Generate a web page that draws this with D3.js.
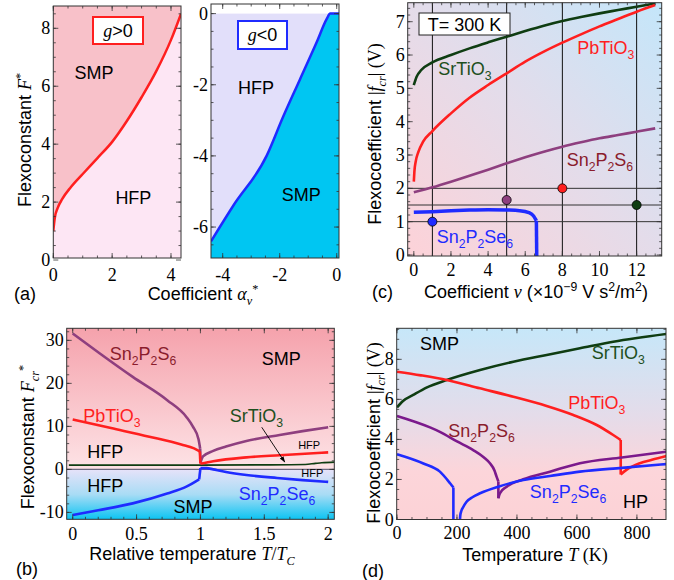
<!DOCTYPE html>
<html lang="en">
<head>
<meta charset="UTF-8">
<title>Flexoconstant phase diagrams</title>
<script src="https://d3js.org/d3.v7.min.js"></script>
<style>
  body { margin: 0; background: #fff; }
  text { font-family: "Liberation Sans", Arial, sans-serif; }
  .num { font-family: "Liberation Serif", "Times New Roman", serif; font-size: 18px; }
</style>
</head>
<body>
<svg id="fig" width="674" height="580"></svg>
<script>
// ---------- data ----------
// (a) boundary SMP/HFP, g>0
var aPosAlpha = [0, 0.05, 0.15, 0.3, 0.6, 1.0, 1.5, 2.0, 2.5, 3.0, 3.5, 4.0, 4.34];
var aPosF     = [1.0, 1.45, 1.8, 2.1, 2.52, 2.97, 3.52, 4.08, 4.8, 5.62, 6.52, 7.6, 8.5];
// (a) boundary, g<0
var aNegAlpha = [-4.41, -3.63, -2.46, -1.88, -1.29, -0.70, -0.35, -0.23, 0.08];
var aNegF     = [-6.4, -5.4, -4.0, -2.9, -1.85, -0.8, -0.15, 0, 0];

// (b) critical flexoconstant vs T/Tc
var bS6T_lo = [0, 0.21, 0.47, 0.74, 0.89, 0.94, 0.985, 0.998];
var bS6F_lo = [31.6, 27.0, 21.5, 16.1, 12.2, 10.0, 7.0, 4.8];
var bS6T_hi = [1.0, 1.02, 1.1, 1.2, 1.36, 1.62, 1.8, 2.0];
var bS6F_hi = [1.5, 3.0, 4.3, 5.3, 6.6, 8.0, 8.9, 9.8];
var bPbT_lo = [0, 0.3, 0.6, 0.85, 0.95, 0.995];
var bPbF_lo = [11.6, 9.6, 7.6, 5.8, 4.9, 4.2];
var bPbT_hi = [1.0, 1.1, 1.36, 1.62, 2.0];
var bPbF_hi = [1.3, 1.9, 2.8, 3.3, 3.95];
var bSrT = [-0.03, 1.0, 1.5, 1.82, 1.9, 1.95, 2.05];
var bSrF = [1.0, 1.0, 1.05, 1.15, 1.4, 1.55, 1.7];
var bSe6T_lo = [0, 0.2, 0.47, 0.74, 0.89, 0.99];
var bSe6F_lo = [-10.6, -9.5, -7.9, -5.6, -4.0, -2.3];
var bSe6T_hi = [1.0, 1.05, 1.1, 1.2, 1.36, 1.6, 1.8, 2.0];
var bSe6F_hi = [0.3, 0.3, 0.0, -0.6, -1.3, -2.0, -2.5, -2.9];

// (c) |f_cr| vs coefficient nu at T = 300 K
var cSrV = [0, 0.15, 0.4, 1, 2, 3, 4, 5, 6, 7, 8, 9, 10, 11, 12, 13];
var cSrF = [5.1, 5.35, 5.55, 5.78, 6.0, 6.2, 6.38, 6.55, 6.72, 6.88, 7.02, 7.14, 7.25, 7.35, 7.45, 7.55];
var cPbV = [0, 0.03, 0.1, 0.25, 0.5, 1, 2, 3, 4, 5, 6, 7, 8, 9, 10, 11, 12, 13];
var cPbF = [2.2, 2.5, 2.8, 3.1, 3.4, 3.72, 4.25, 4.72, 5.1, 5.45, 5.8, 6.1, 6.37, 6.62, 6.86, 7.08, 7.3, 7.5];
var cS6V = [0, 1, 2, 3, 4, 5, 6, 7, 8, 9, 10, 11, 12, 13];
var cS6F = [1.88, 2.03, 2.2, 2.38, 2.56, 2.75, 2.93, 3.1, 3.25, 3.38, 3.5, 3.6, 3.7, 3.8];
var cSe6V_lo = [0, 1, 2, 3, 4, 5, 5.7, 6.2, 6.45, 6.6];
var cSe6F_lo = [1.28, 1.3, 1.33, 1.35, 1.36, 1.35, 1.33, 1.27, 1.17, 1.03];
var cSe6V_hi = [6.62];
var cSe6F_hi = [-0.05];
var cGridV = [1, 5, 8, 12];
var cGridF = [1, 1.5, 2];
var cDotV = [1, 5, 8, 12];
var cDotF = [1, 1.65, 2, 1.5];
var cDotMat = ["Sn2P2Se6", "Sn2P2S6", "PbTiO3", "SrTiO3"];

// (d) |f_cr| vs temperature
var dSrT = [0, 20, 54, 100, 166, 277, 388, 499, 610, 721, 899];
var dSrF = [5.6, 5.92, 6.22, 6.6, 6.97, 7.47, 7.88, 8.22, 8.55, 8.88, 9.27];
var dPbT_lo = [0, 80, 166, 277, 388, 499, 588, 666, 721, 746];
var dPbF_lo = [7.38, 7.2, 6.97, 6.55, 6.13, 5.67, 5.22, 4.72, 4.22, 3.97];
var dPbT_hi = [746, 765, 810, 850, 899];
var dPbF_hi = [2.25, 2.48, 2.81, 2.98, 3.17];
var dS6T_lo = [0, 110, 143, 200, 254, 290, 310, 325, 332, 338];
var dS6F_lo = [5.17, 4.6, 4.38, 3.9, 3.47, 3.1, 2.81, 2.45, 2.14, 1.9];
var dS6T_hi = [338, 343, 366, 421, 510, 610, 750, 899];
var dS6F_hi = [1.06, 1.31, 1.64, 2.01, 2.39, 2.81, 3.1, 3.39];
var dSe6T_lo = [0, 88, 143, 177, 188];
var dSe6F_lo = [3.26, 2.8, 2.39, 1.81, 1.6];
var dSe6T_mid = [188];
var dSe6F_mid = [-0.05];
var dSe6T_hi = [210, 211, 214, 220, 232, 250, 277, 338, 421, 510, 610, 750, 899];
var dSe6F_hi = [0, 0.2, 0.4, 0.6, 0.89, 1.1, 1.31, 1.64, 1.97, 2.17, 2.39, 2.58, 2.77];

// ---------- styles ----------
var col = {
  PbTiO3: "#ff1f1f", SrTiO3: "#0f3d12", Sn2P2S6: "#8e3f7f", Sn2P2Se6: "#1f2bff",
  S6d: "#7b1a8c", S6text: "#8a1c2c", Srtext: "#1d4f1d"
};
var serif = '"Liberation Serif", "Times New Roman", serif';

var svg = d3.select("#fig");
var defs = svg.append("defs");

function linGrad(id, x1, y1, x2, y2, stops) {
  var gr = defs.append("linearGradient").attr("id", id)
    .attr("x1", x1).attr("y1", y1).attr("x2", x2).attr("y2", y2);
  stops.forEach(function(s) { gr.append("stop").attr("offset", s[0]).attr("stop-color", s[1]); });
}
linGrad("gradB1", 0, 0, 0, 1, [[0, "#f5a2ac"], [1, "#fde3e6"]]);
linGrad("gradB2", 0, 0, 0, 1, [[0, "#e6e2f9"], [0.5, "#a9dcf5"], [1, "#0cc4f2"]]);
linGrad("gradC", 0, 1, 1, 0, [[0, "#fdd2d8"], [0.5, "#e4dcea"], [1, "#c4e6fa"]]);
linGrad("gradD", 0, 0, 0, 1, [[0, "#c6e7f9"], [0.45, "#e4dcea"], [0.75, "#fcd5da"], [1, "#fcd2d6"]]);

defs.append("marker").attr("id", "arrow").attr("viewBox", "0 0 10 10")
  .attr("refX", 9).attr("refY", 5).attr("markerWidth", 7).attr("markerHeight", 7)
  .attr("orient", "auto")
  .append("path").attr("d", "M0,1.5 L10,5 L0,8.5 z").attr("fill", "#000");

var clipN = 0;
function clipFor(g, x, y) {
  var id = "clip" + (clipN++);
  defs.append("clipPath").attr("id", id).append("rect")
    .attr("x", x.range()[0]).attr("y", y.range()[1])
    .attr("width", x.range()[1] - x.range()[0]).attr("height", y.range()[0] - y.range()[1]);
  return g.append("g").attr("clip-path", "url(#" + id + ")");
}

function zip(xs, ys) { return xs.map(function(v, i) { return [v, ys[i]]; }); }

// branches are [xs, ys] pairs; consecutive branches joined by a straight jump
function drawSeries(g, x, y, branches, color, width, connect) {
  var smooth = d3.line().x(function(d) { return x(d[0]); }).y(function(d) { return y(d[1]); })
    .curve(d3.curveMonotoneX);
  var straight = d3.line().x(function(d) { return x(d[0]); }).y(function(d) { return y(d[1]); });
  var pts = branches.map(function(b) { return zip(b[0], b[1]); });
  pts.forEach(function(p, i) {
    if (p.length > 1) {
      g.append("path").datum(p).attr("d", smooth).attr("fill", "none")
        .attr("stroke", color).attr("stroke-width", width).attr("stroke-linejoin", "round");
    }
    if (connect && i > 0) {
      var prev = pts[i - 1];
      g.append("path").datum([prev[prev.length - 1], p[0]]).attr("d", straight).attr("fill", "none")
        .attr("stroke", color).attr("stroke-width", width).attr("stroke-linecap", "butt");
    }
  });
}

function steps(dom, step) {
  var lo = Math.min(dom[0], dom[1]), hi = Math.max(dom[0], dom[1]);
  return d3.range(Math.ceil(lo / step - 1e-9) * step, hi + 1e-9, step)
    .map(function(v) { return Math.round(v * 1e6) / 1e6; });
}

// Mathematica-like frame: ticks inside on all four sides
function frame(g, x, y, o) {
  var X0 = x.range()[0], X1 = x.range()[1], Y0 = y.range()[0], Y1 = y.range()[1];
  var tg = g.append("g").attr("stroke", "#333").attr("stroke-width", 0.8);
  function xt(vals, len) {
    vals.forEach(function(v) {
      var px = x(v);
      tg.append("line").attr("x1", px).attr("x2", px).attr("y1", Y0).attr("y2", Y0 - len);
      tg.append("line").attr("x1", px).attr("x2", px).attr("y1", Y1).attr("y2", Y1 + len);
    });
  }
  function yt(vals, len) {
    vals.forEach(function(v) {
      var py = y(v);
      tg.append("line").attr("y1", py).attr("y2", py).attr("x1", X0).attr("x2", X0 + len);
      tg.append("line").attr("y1", py).attr("y2", py).attr("x1", X1).attr("x2", X1 - len);
    });
  }
  xt(steps(x.domain(), o.xMinor), 2.5);
  yt(steps(y.domain(), o.yMinor), 2.5);
  xt(o.xTicks, 5);
  yt(o.yTicks, 5);
  g.append("rect").attr("x", X0).attr("y", Y1).attr("width", X1 - X0).attr("height", Y0 - Y1)
    .attr("fill", "none").attr("stroke", "#333").attr("stroke-width", 1);
  o.xTicks.forEach(function(v) {
    g.append("text").attr("class", "num").attr("x", x(v)).attr("y", o.xBase)
      .attr("text-anchor", "middle").text(String(v));
  });
  o.yTicks.forEach(function(v) {
    g.append("text").attr("class", "num").attr("x", X0 - 3).attr("y", y(v) + 6)
      .attr("text-anchor", "end").text(String(v));
  });
}

// text made of runs: [text, "sub"|"sup"|"", "i" (serif italic) | "s" (serif) | ""]
function rich(sel, x, y, parts, size, anchor, color) {
  var t = sel.append("text").attr("x", x).attr("y", y).attr("font-size", size)
    .attr("text-anchor", anchor || "start").attr("fill", color || "#000");
  var shift = 0;
  parts.forEach(function(p) {
    var s = t.append("tspan").text(p[0]);
    var want = p[1] === "sub" ? size * 0.28 : p[1] === "sup" ? -size * 0.38 : 0;
    s.attr("dy", want - shift);
    shift = want;
    if (p[1]) s.attr("font-size", size * 0.68);
    if (p[2] === "i") s.attr("font-family", serif).attr("font-style", "italic");
    if (p[2] === "s") s.attr("font-family", serif);
  });
  return t;
}
function chem(name) {
  var m = {
    Sn2P2S6: [["Sn"], ["2", "sub"], ["P"], ["2", "sub"], ["S"], ["6", "sub"]],
    Sn2P2Se6: [["Sn"], ["2", "sub"], ["P"], ["2", "sub"], ["Se"], ["6", "sub"]],
    PbTiO3: [["PbTiO"], ["3", "sub"]],
    SrTiO3: [["SrTiO"], ["3", "sub"]]
  };
  return m[name];
}
function label(g, x, y, px, py, text, size, color) {
  return g.append("text").attr("x", x(px)).attr("y", y(py)).attr("font-size", size || 18)
    .attr("fill", color || "#000").text(text);
}

// ================= panel (a), g>0 =================
var xaL = d3.scaleLinear().domain([0, 4.34]).range([53.3, 181]);
var yaL = d3.scaleLinear().domain([0.07, 8.77]).range([258, 6]);
var gaL = svg.append("g");
gaL.append("rect").attr("x", 53.3).attr("y", 6).attr("width", 127.7).attr("height", 252).attr("fill", "#fde6f4");
var caL = clipFor(gaL, xaL, yaL);
caL.append("path").datum(zip(aPosAlpha, aPosF))
  .attr("d", d3.area().x(function(d) { return xaL(d[0]); }).y0(yaL.range()[1])
    .y1(function(d) { return yaL(d[1]); }).curve(d3.curveMonotoneX))
  .attr("fill", "#f8c1c9");
drawSeries(caL, xaL, yaL, [[aPosAlpha, aPosF]], "#ff1f1f", 2.5);
frame(gaL, xaL, yaL, { xTicks: [0, 2, 4], yTicks: [0, 2, 4, 6, 8], xMinor: 0.5, yMinor: 0.5, xBase: 281 });
label(gaL, xaL, yaL, 0.72, 6.25, "SMP");
label(gaL, xaL, yaL, 2.11, 1.95, "HFP");
gaL.append("rect").attr("x", 93).attr("y", 17).attr("width", 50).attr("height", 27)
  .attr("fill", "#fff").attr("stroke", "#ff1f1f").attr("stroke-width", 2);
rich(gaL, 118, 37, [["g", "", "i"], [">0"]], 18, "middle");

// ================= panel (a), g<0 =================
var xaR = d3.scaleLinear().domain([-4.41, 0.08]).range([211, 339]);
var yaR = d3.scaleLinear().domain([-6.87, 0.27]).range([258, 4]);
var gaR = svg.append("g");
gaR.append("rect").attr("x", 211).attr("y", yaR(0)).attr("width", 128).attr("height", 258 - yaR(0)).attr("fill", "#e2dffa");
var caR = clipFor(gaR, xaR, yaR);
caR.append("path").datum(zip(aNegAlpha, aNegF))
  .attr("d", d3.area().x(function(d) { return xaR(d[0]); }).y0(yaR.range()[0])
    .y1(function(d) { return yaR(d[1]); }).curve(d3.curveMonotoneX))
  .attr("fill", "#00c6f2");
drawSeries(caR, xaR, yaR, [[aNegAlpha, aNegF]], "#1f2bff", 2.5);
frame(gaR, xaR, yaR, { xTicks: [-4, -2, 0], yTicks: [0, -2, -4, -6], xMinor: 0.5, yMinor: 0.5, xBase: 281 });
label(gaR, xaR, yaR, -3.46, -2.25, "HFP");
label(gaR, xaR, yaR, -1.93, -5.27, "SMP");
gaR.append("rect").attr("x", 238).attr("y", 21).attr("width", 49).attr("height", 28)
  .attr("fill", "#fff").attr("stroke", "#1f2bff").attr("stroke-width", 2);
rich(gaR, 262.5, 41, [["g", "", "i"], ["<0"]], 18, "middle");

// axis titles (a)
rich(svg.append("g").attr("transform", "translate(31,140) rotate(-90)"), 0, 0,
  [["Flexoconstant  "], ["F", "", "i"], ["*", "sup", "s"]], 18, "middle");
rich(svg, 203, 300, [["Coefficient  "], ["α", "", "i"], ["ν", "sub", "i"], ["*", "sup", "s"]], 18, "middle");
svg.append("text").attr("x", 14).attr("y", 300).attr("font-size", 18).text("(a)");

// ================= panel (c) =================
var xc = d3.scaleLinear().domain([-0.33, 13.35]).range([407.7, 661.7]);
var yc = d3.scaleLinear().domain([-0.03, 7.57]).range([256, 2.7]);
var gc = svg.append("g");
gc.append("rect").attr("x", 407.7).attr("y", 2.7).attr("width", 254).attr("height", 253.3).attr("fill", "url(#gradC)");
var cc = clipFor(gc, xc, yc);
cGridV.forEach(function(v) {
  cc.append("line").attr("x1", xc(v)).attr("x2", xc(v)).attr("y1", yc.range()[0]).attr("y2", yc.range()[1])
    .attr("stroke", "#111").attr("stroke-width", 1);
});
cGridF.forEach(function(v) {
  cc.append("line").attr("y1", yc(v)).attr("y2", yc(v)).attr("x1", xc.range()[0]).attr("x2", xc.range()[1])
    .attr("stroke", "#333").attr("stroke-width", 1);
});
drawSeries(cc, xc, yc, [[cSrV, cSrF]], col.SrTiO3, 2.6);
drawSeries(cc, xc, yc, [[cPbV, cPbF]], col.PbTiO3, 2.6);
drawSeries(cc, xc, yc, [[cS6V, cS6F]], col.Sn2P2S6, 2.6);
drawSeries(cc, xc, yc, [[cSe6V_lo, cSe6F_lo], [cSe6V_hi, cSe6F_hi]], col.Sn2P2Se6, 3.5, true);
cDotV.forEach(function(v, i) {
  cc.append("circle").attr("cx", xc(v)).attr("cy", yc(cDotF[i])).attr("r", 4.5)
    .attr("fill", col[cDotMat[i]]).attr("stroke", "#000").attr("stroke-width", 0.8);
});
frame(gc, xc, yc, { xTicks: [0, 2, 4, 6, 8, 10, 12], yTicks: [0, 1, 2, 3, 4, 5, 6, 7], xMinor: 0.5, yMinor: 0.2, xBase: 276 });
rich(gc, xc(1.32), yc(5.4), chem("SrTiO3"), 18, "start", col.Srtext);
rich(gc, xc(8.8), yc(6.02), chem("PbTiO3"), 18, "start", col.PbTiO3);
rich(gc, xc(8.23), yc(2.68), chem("Sn2P2S6"), 18, "start", col.S6text);
rich(gc, xc(1.23), yc(0.35), chem("Sn2P2Se6"), 18, "start", col.Sn2P2Se6);
gc.append("rect").attr("x", 419).attr("y", 13).attr("width", 91).attr("height", 22)
  .attr("fill", "#fff").attr("stroke", "#222").attr("stroke-width", 1);
gc.append("text").attr("x", 464.5).attr("y", 30.5).attr("text-anchor", "middle").attr("font-size", 18).text("T= 300 K");
rich(svg.append("g").attr("transform", "translate(381,134) rotate(-90)"), 0, 0,
  [["Flexocoefficient "], ["|", "", "s"], ["f", "", "i"], ["cr", "sub", "i"], ["|", "", "s"], [" (V)", "", "s"]], 18, "middle");
rich(svg, 536, 298, [["Coefficient  "], ["ν", "", "i"], [" (×10"], ["−9", "sup"], [" V s"], ["2", "sup"], ["/m"], ["2", "sup"], [")"]], 18, "middle");
svg.append("text").attr("x", 372).attr("y", 298).attr("font-size", 18).text("(c)");

// ================= panel (b) =================
var xb = d3.scaleLinear().domain([-0.047, 2.048]).range([66.7, 334.3]);
var yb = d3.scaleLinear().domain([-11.6, 32.8]).range([519.3, 328.3]);
var gb = svg.append("g");
gb.append("rect").attr("x", 66.7).attr("y", 328.3).attr("width", 267.6).attr("height", yb(0) - 328.3).attr("fill", "url(#gradB1)");
gb.append("rect").attr("x", 66.7).attr("y", yb(0)).attr("width", 267.6).attr("height", 519.3 - yb(0)).attr("fill", "url(#gradB2)");
var cb = clipFor(gb, xb, yb);
cb.append("line").attr("x1", 66.7).attr("x2", 334.3).attr("y1", yb(0)).attr("y2", yb(0))
  .attr("stroke", "#6c6a80").attr("stroke-width", 1.3);
drawSeries(cb, xb, yb, [[bSrT, bSrF]], col.SrTiO3, 1.6);
drawSeries(cb, xb, yb, [[bS6T_lo, bS6F_lo], [bS6T_hi, bS6F_hi]], col.Sn2P2S6, 2.6, true);
drawSeries(cb, xb, yb, [[bPbT_lo, bPbF_lo], [bPbT_hi, bPbF_hi]], col.PbTiO3, 2.6, true);
drawSeries(cb, xb, yb, [[bSe6T_lo, bSe6F_lo], [bSe6T_hi, bSe6F_hi]], col.Sn2P2Se6, 2.6, true);
gb.append("line").attr("x1", xb(1.48)).attr("y1", yb(9.8)).attr("x2", xb(1.66)).attr("y2", yb(1.7))
  .attr("stroke", "#000").attr("stroke-width", 0.9).attr("marker-end", "url(#arrow)");
frame(gb, xb, yb, { xTicks: [0, 0.5, 1, 1.5, 2], yTicks: [-10, 0, 10, 20, 30], xMinor: 0.1, yMinor: 2, xBase: 540 });
rich(gb, xb(0.29), yb(25.4), chem("Sn2P2S6"), 18, "start", col.S6text);
label(gb, xb, yb, 1.48, 24.3, "SMP");
rich(gb, xb(0.083), yb(11.1), chem("PbTiO3"), 18, "start", col.PbTiO3);
rich(gb, xb(1.23), yb(11.1), chem("SrTiO3"), 18, "start", col.Srtext);
label(gb, xb, yb, 0.114, 2.56, "HFP");
label(gb, xb, yb, 1.765, 4.65, "HFP", 11);
label(gb, xb, yb, 1.79, -1.72, "HFP", 11);
label(gb, xb, yb, 0.114, -5.2, "HFP");
label(gb, xb, yb, 0.79, -10.1, "SMP");
rich(gb, xb(1.30), yb(-7.0), chem("Sn2P2Se6"), 18, "start", col.Sn2P2Se6);
rich(svg.append("g").attr("transform", "translate(34,437) rotate(-90)"), 0, 0,
  [["Flexoconstant  "], ["F", "", "i"], ["cr", "sub", "i"], ["*", "sup", "s"]], 18, "middle");
rich(svg, 192, 560, [["Relative temperature  "], ["T", "", "i"], ["/", "", "s"], ["T", "", "i"], ["C", "sub", "i"]], 18, "middle");
svg.append("text").attr("x", 16).attr("y", 575).attr("font-size", 18).text("(b)");

// ================= panel (d) =================
var xd = d3.scaleLinear().domain([-1, 897]).range([396.7, 666]);
var yd = d3.scaleLinear().domain([0, 9.55]).range([519.5, 328.3]);
var gd = svg.append("g");
gd.append("rect").attr("x", 396.7).attr("y", 328.3).attr("width", 269.3).attr("height", 191.2).attr("fill", "url(#gradD)");
var cd = clipFor(gd, xd, yd);
drawSeries(cd, xd, yd, [[dSrT, dSrF]], col.SrTiO3, 2.6);
drawSeries(cd, xd, yd, [[dPbT_lo, dPbF_lo], [dPbT_hi, dPbF_hi]], col.PbTiO3, 2.6, true);
drawSeries(cd, xd, yd, [[dS6T_lo, dS6F_lo], [dS6T_hi, dS6F_hi]], col.S6d, 2.6, true);
drawSeries(cd, xd, yd, [[dSe6T_lo, dSe6F_lo], [dSe6T_mid, dSe6F_mid]], col.Sn2P2Se6, 2.6, true);
drawSeries(cd, xd, yd, [[dSe6T_hi, dSe6F_hi]], col.Sn2P2Se6, 2.6);
frame(gd, xd, yd, { xTicks: [0, 200, 400, 600, 800], yTicks: [0, 2, 4, 6, 8], xMinor: 50, yMinor: 0.5, xBase: 539 });
label(gd, xd, yd, 77, 8.48, "SMP");
rich(gd, xd(649), yd(8.0), chem("SrTiO3"), 18, "start", col.Srtext);
rich(gd, xd(571), yd(5.5), chem("PbTiO3"), 18, "start", col.PbTiO3);
rich(gd, xd(171), yd(4.14), chem("Sn2P2S6"), 18, "start", col.S6text);
rich(gd, xd(443), yd(1.06), chem("Sn2P2Se6"), 18, "start", col.Sn2P2Se6);
label(gd, xd, yd, 754, 0.56, "HP");
rich(svg.append("g").attr("transform", "translate(380,433) rotate(-90)"), 0, 0,
  [["Flexocoefficient "], ["|", "", "s"], ["f", "", "i"], ["cr", "sub", "i"], ["|", "", "s"], [" (V)", "", "s"]], 18, "middle");
rich(svg, 535, 561, [["Temperature  "], ["T", "", "i"], [" (K)", "", "s"]], 18, "middle");
svg.append("text").attr("x", 362).attr("y", 577).attr("font-size", 18).text("(d)");
</script>
</body>
</html>
